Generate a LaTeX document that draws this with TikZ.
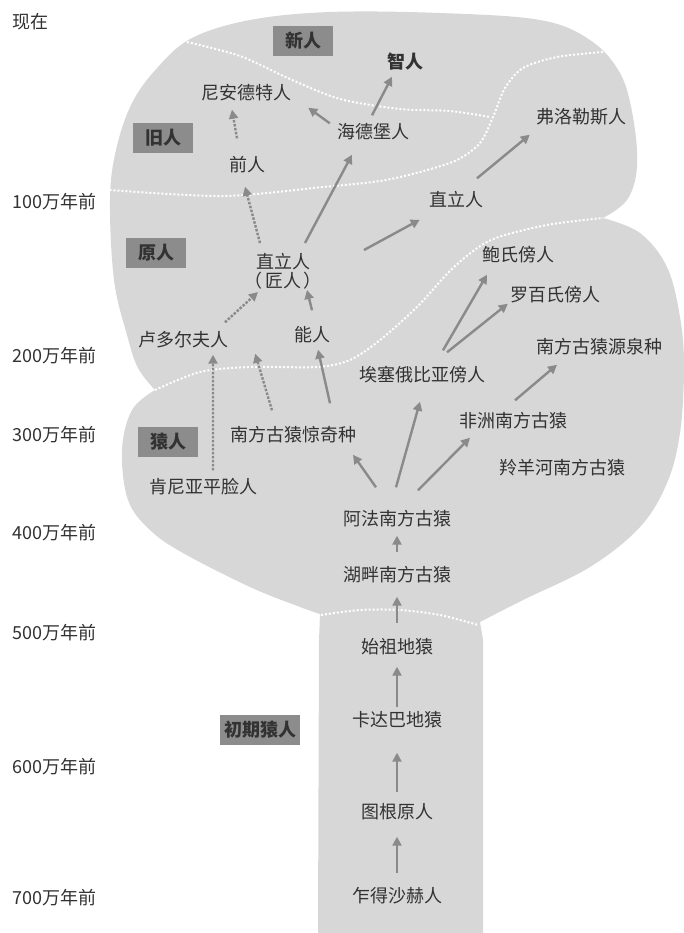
\documentclass[tikz,border=0pt]{standalone}
\usepackage{fontspec}
\setmainfont{Noto Sans CJK SC}
\usepackage{xcolor}
\usetikzlibrary{arrows.meta}
\definecolor{blobgray}{RGB}{215,215,215}
\definecolor{boxgray}{RGB}{140,140,140}
\definecolor{arrgray}{RGB}{138,138,138}
\definecolor{txtgray}{RGB}{50,50,50}

\begin{document}
\begin{tikzpicture}[x=1bp, y=-1bp,
    lbl/.style={inner sep=0pt, text=txtgray, font=\fontsize{18bp}{19bp}\selectfont},
    sp/.style={lbl, text height=15bp, text depth=2bp},
    age/.style={sp, anchor=west},
    era/.style={fill=boxgray, text=txtgray, font=\fontsize{18bp}{19bp}\selectfont\bfseries,
        minimum width=60bp, minimum height=30bp, inner xsep=4bp, text height=15bp, text depth=2bp},
    arr/.style={draw=arrgray, line width=2.4bp, -{Triangle[length=9bp,width=9bp]}},
    darr/.style={arr, dash pattern=on 2.5bp off 1.5bp},
    zone/.style={white, line width=2bp, dash pattern=on 2bp off 2bp}]
        \useasboundingbox (0,0) rectangle (684,933);
        % the tree
        \fill[blobgray] plot[smooth, tension=.6] coordinates {(155,390) (138,368) (127,335) (114,280) (110,200)
            (116,150) (132,103) (158,67) (192,38) (250,20) (330,12) (440,13) (540,20) (590,40) (620,73)
            (633,117) (637,167) (627,200) (603,218)}
            -- plot[smooth, tension=.6] coordinates {(603,218) (640,233) (667,267) (680,317) (684,367)
            (680,433) (667,483) (640,527) (590,567) (523,600) (480,622)}
            -- (483,640) -- (483,933) -- (318,933) -- (319,640)
            -- plot[smooth, tension=.6] coordinates {(320,614) (300,607) (250,587) (183,553) (150,530)
            (128,500) (122,450) (132,410) (155,390)} -- cycle;
        % white dotted boundaries
        \draw[zone] plot[smooth] coordinates {(187,42) (240,56) (290,79) (340,99) (400,109) (450,111) (490,117)};
        \draw[zone] plot[smooth] coordinates {(603,52) (557,57) (523,68) (505,88) (493,117) (480,143) (457,160)
            (420,172) (380,181) (323,187) (223,196) (110,190)};
        \draw[zone] plot[smooth] coordinates {(155,390) (200,372) (250,367) (317,367) (350,360) (380,340)
            (417,307) (454,267) (491,240) (547,225) (603,218)};
        \draw[zone] plot[smooth] coordinates {(321,615) (360,610) (400,610) (440,615) (478,625)};

        % time scale
        \node[age] (t0) at (12,22) {现在};
        \node[age] (t1) at (12,202) {100万年前};
        \node[age] (t2) at (12,356) {200万年前};
        \node[age] (t3) at (12,435) {300万年前};
        \node[age] (t4) at (12,533) {400万年前};
        \node[age] (t5) at (12,633) {500万年前};
        \node[age] (t6) at (12,767) {600万年前};
        \node[age] (t7) at (12,898) {700万年前};

        % stages
        \node[era] (xin) at (303,41) {新人};
        \node[era] (jiu) at (163,138) {旧人};
        \node[era] (yuan) at (156,253) {原人};
        \node[era] (yr) at (168,442) {猿人};
        \node[era] (cq) at (260,730) {初期猿人};

        % species
        \node[sp, font=\fontsize{18bp}{19bp}\selectfont\bfseries] (zr) at (405,62) {智人};
        \node[sp] (nd) at (246,93) {尼安德特人};
        \node[sp] (hd) at (373,132) {海德堡人};
        \node[sp] (qr) at (247,165) {前人};
        \node[sp] (fl) at (581,117) {弗洛勒斯人};
        \node[sp] (zl) at (456,200) {直立人};
        \node[lbl, align=center] (jr) at (283,271) {直立人\\（\hspace{3bp}匠人\hspace{2bp}）};
        \node[sp] (bs) at (518,255) {鲍氏傍人};
        \node[sp] (lb) at (555,295) {罗百氏傍人};
        \node[sp] (ld) at (183,340) {卢多尔夫人};
        \node[sp] (nr) at (312,335) {能人};
        \node[sp] (yq) at (599,347) {南方古猿源泉种};
        \node[sp] (as) at (422,375) {埃塞俄比亚傍人};
        \node[sp] (fz) at (513,421) {非洲南方古猿};
        \node[sp] (jq) at (293,435) {南方古猿惊奇种};
        \node[sp] (ly) at (562,468) {羚羊河南方古猿};
        \node[sp] (ky) at (203,487) {肯尼亚平脸人};
        \node[sp] (af) at (397,519) {阿法南方古猿};
        \node[sp] (hp) at (397,575) {湖畔南方古猿};
        \node[sp] (sz) at (397,647) {始祖地猿};
        \node[sp] (kd) at (397,720) {卡达巴地猿};
        \node[sp] (tg) at (397,812) {图根原人};
        \node[sp] (zd) at (397,896) {乍得沙赫人};

        % lineages
        \draw[arr, shorten <=14bp, shorten >=16bp] (zd) -- (tg);
        \draw[arr, shorten <=11bp, shorten >=24bp] (tg) -- (kd);
        \draw[arr, shorten <=4bp, shorten >=11bp] (kd) -- (sz);
        \draw[arr, shorten <=15bp, shorten >=13bp] (sz) -- (hp);
        \draw[arr, shorten <=14bp, shorten >=8bp] (hp) -- (af);
        \draw[arr] ([xshift=-21bp,yshift=23bp]af.north) -- ([xshift=60bp,yshift=-11bp]jq.south);
        \draw[arr] ([xshift=-1bp,yshift=23bp]af.north) -- ([xshift=-2bp,yshift=-18bp]as.south);
        \draw[arr] ([xshift=21bp,yshift=20bp]af.north) -- ([xshift=-43bp,yshift=-8bp]fz.south);
        \draw[arr] ([xshift=2bp,yshift=12bp]fz.north) -- ([xshift=-42bp,yshift=-9bp]yq.south);
        \draw[arr] ([xshift=21bp,yshift=16bp]as.north) -- ([xshift=-31bp,yshift=-11bp]bs.south);
        \draw[arr] ([xshift=25bp,yshift=14bp]as.north) -- ([xshift=-2bp]lb.south west);
        \draw[darr] ([xshift=10bp,yshift=8bp]ky.north) -- ([xshift=30bp,yshift=-6bp]ld.south);
        \draw[darr] ([xshift=-21bp,yshift=16bp]jq.north) -- ([xshift=27bp,yshift=-5bp]ld.south east);
        \draw[arr] ([xshift=37bp,yshift=23bp]jq.north) -- ([xshift=6bp,yshift=-6bp]nr.south);
        \draw[darr] ([xshift=42bp,yshift=9bp]ld.north) -- ([xshift=-25bp,yshift=-21bp]jr.center);
        \draw[arr] ([yshift=16bp]nr.north) -- ([xshift=24bp,yshift=-19bp]jr.center);
        \draw[darr] ([xshift=-23bp,yshift=28bp]jr.center) -- ([xshift=-2bp,yshift=-13bp]qr.south);
        \draw[arr] ([xshift=22bp,yshift=28bp]jr.center) -- ([xshift=-21bp,yshift=-14bp]hd.south);
        \draw[arr] ([xshift=81bp,yshift=21bp]jr.center) -- ([xshift=-9bp,yshift=-11bp]zl.south west);
        \draw[arr] ([xshift=21bp,yshift=13bp]zl.north) -- ([xshift=-6bp,yshift=-9bp]fl.south west);
        \draw[darr] ([xshift=-10bp,yshift=18bp]qr.north) -- ([xshift=-14bp,yshift=-8bp]nd.south);
        \draw[arr] ([xshift=-7bp]hd.north west) -- ([xshift=17bp,yshift=-6bp]nd.south east);
        \draw[arr] ([xshift=-1bp,yshift=8bp]hd.north) -- ([xshift=-13bp,yshift=-6bp]zr.south);
    \end{tikzpicture}
\end{document}
